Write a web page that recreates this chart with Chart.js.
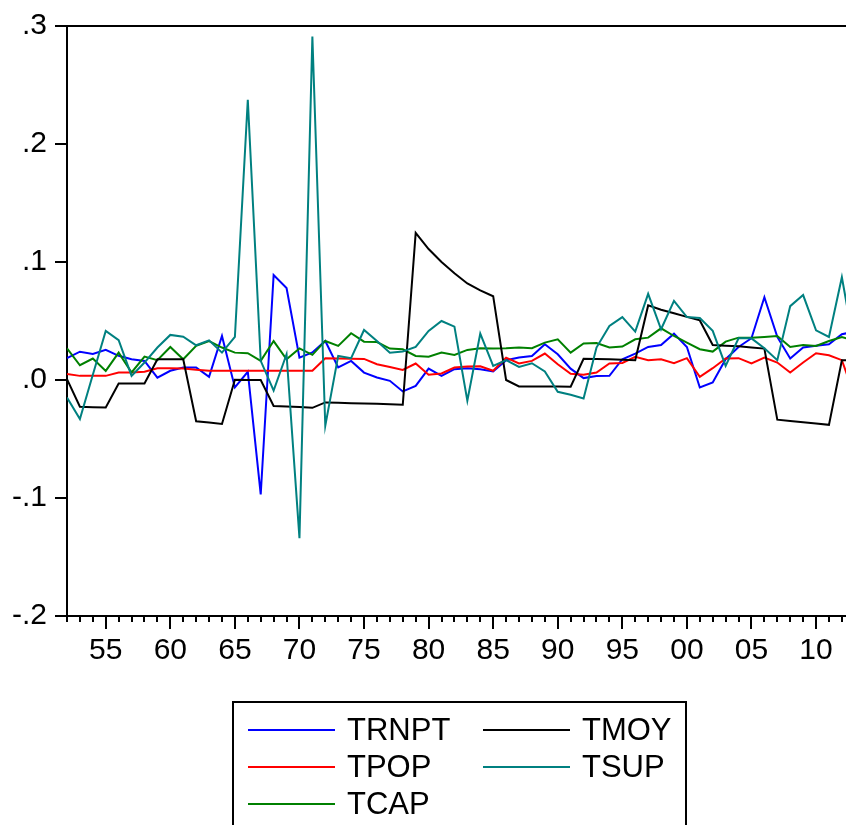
<!DOCTYPE html>
<html>
<head>
<meta charset="utf-8">
<script src="https://cdn.jsdelivr.net/npm/chart.js@4"></script>
<style>
html, body { margin:0; padding:0; background:#fff; overflow:hidden; }
#wrap { position:relative; width:846px; height:825px; }
#legend {
  position:absolute; left:232px; top:701px; width:451px; height:140px;
  border:2px solid #000; font-family:"Liberation Sans", Arial, sans-serif; font-size:31px; color:#000;
}
.item { position:absolute; height:37px; display:flex; align-items:center; white-space:nowrap; }
.item .ln { width:87px; height:2px; margin-right:12px; }
</style>
</head>
<body>
<div id="wrap">
  <canvas id="mychart" width="846" height="825"></canvas>
  <div id="legend"></div>
</div>
<script>
// annual data 1952 - 2013 (last point sits past the right edge)
var years = [];
for (var yr = 1952; yr <= 2013; yr++) years.push(yr);

var TRNPT = [0.0185, 0.024, 0.022, 0.0255, 0.0205, 0.0176, 0.0162, 0.002, 0.0078, 0.0106,
  0.0106, 0.0027, 0.0373, -0.0063, 0.007, -0.097, 0.089, 0.078, 0.019, 0.0233,
  0.0331, 0.0106, 0.0162, 0.0063, 0.0021, -0.0007, -0.0097, -0.005, 0.0097, 0.0035,
  0.0092, 0.01, 0.0092, 0.0072, 0.0168, 0.019, 0.0204, 0.0303, 0.0218, 0.0096,
  0.0016, 0.0033, 0.0036, 0.0176, 0.0224, 0.028, 0.0297, 0.0393, 0.028, -0.0063,
  -0.0021, 0.0176, 0.028, 0.0354, 0.0702, 0.0365, 0.0182, 0.0275, 0.029, 0.0303,
  0.0388, 0.041];

var TPOP = [0.005, 0.0035, 0.0035, 0.0035, 0.0064, 0.0064, 0.007, 0.010, 0.010, 0.0097,
  0.0086, 0.0078, 0.0078, 0.0078, 0.0078, 0.0078, 0.0078, 0.0078, 0.0078, 0.0078,
  0.0185, 0.0183, 0.018, 0.0179, 0.0134, 0.011, 0.0086, 0.014, 0.0044, 0.0055,
  0.0106, 0.0114, 0.0117, 0.0078, 0.019, 0.014, 0.0162, 0.0224, 0.0134, 0.0052,
  0.0044, 0.0064, 0.014, 0.0145, 0.0196, 0.0168, 0.0176, 0.0142, 0.0185, 0.0027,
  0.01, 0.0182, 0.0185, 0.014, 0.019, 0.0148, 0.0064, 0.0148, 0.0227, 0.021,
  0.0168, -0.014];

var TCAP = [0.0269, 0.0125, 0.0182, 0.0077, 0.0232, 0.0064, 0.0199, 0.0168, 0.028, 0.0176,
  0.0289, 0.033, 0.0275, 0.0232, 0.0227, 0.0162, 0.033, 0.0176, 0.0268, 0.0213,
  0.0331, 0.0289, 0.0396, 0.0325, 0.0322, 0.0266, 0.026, 0.0204, 0.0198, 0.0232,
  0.0213, 0.0255, 0.0269, 0.0266, 0.0269, 0.0275, 0.0269, 0.0317, 0.0345, 0.0232,
  0.0309, 0.0314, 0.0275, 0.0283, 0.0345, 0.0359, 0.0438, 0.0373, 0.0317, 0.0261,
  0.0241, 0.0325, 0.0359, 0.0359, 0.0365, 0.0373, 0.028, 0.0297, 0.0289, 0.0331,
  0.0365, 0.033];

var TMOY = [0.0007, -0.0227, -0.023, -0.0233, -0.003, -0.003, -0.003, 0.0176, 0.0176, 0.0176,
  -0.035, -0.036, -0.0373, 0.0002, 0.0001, 0.0, -0.022, -0.0224, -0.0228, -0.0236,
  -0.019, -0.0193, -0.0196, -0.0199, -0.0202, -0.0205, -0.021, 0.1246, 0.111, 0.1,
  0.0905, 0.0818, 0.076, 0.071, 0.0, -0.0055, -0.0055, -0.0056, -0.0056, -0.0057,
  0.0179, 0.0177, 0.0175, 0.0172, 0.0167, 0.0632, 0.0595, 0.0565, 0.0535, 0.0505,
  0.0297, 0.0291, 0.0285, 0.0276, 0.0266, -0.0336, -0.0348, -0.0358, -0.0369, -0.038,
  0.0167, 0.0165];

var TSUP = [-0.0148, -0.033, 0.0044, 0.0416, 0.0337, 0.0035, 0.0148, 0.0275, 0.0382, 0.0367,
  0.0294, 0.0336, 0.0232, 0.0365, 0.2375, 0.0162, -0.009, 0.0218, -0.134, 0.291,
  -0.0387, 0.0204, 0.0185, 0.0424, 0.0331, 0.0232, 0.0241, 0.028, 0.0416, 0.05,
  0.0452, -0.0176, 0.0393, 0.012, 0.0168, 0.0111, 0.0142, 0.0072, -0.01, -0.0125,
  -0.0156, 0.0275, 0.0458, 0.0533, 0.041, 0.073, 0.043, 0.067, 0.0533, 0.0526,
  0.0416, 0.012, 0.0353, 0.0353, 0.0269, 0.0168, 0.0626, 0.072, 0.0421, 0.0365,
  0.0871, 0.026];

var seriesNames = ["TRNPT", "TPOP", "TCAP", "TMOY", "TSUP"];
var seriesColors = ["#0000ff", "#ff0000", "#008000", "#000000", "#008080"];
var seriesValues = [TRNPT, TPOP, TCAP, TMOY, TSUP];

var xMin = 1952, xMax = 2012.32;
var yMin = -0.2, yMax = 0.3, yStep = 0.1;

Chart.defaults.font.family = '"Liberation Sans", Arial, sans-serif';
Chart.defaults.color = "#000";

var datasets = [];
for (var i = 0; i < seriesNames.length; i++) {
  var pts = [];
  for (var j = 0; j < years.length; j++) {
    pts.push({x: years[j], y: seriesValues[i][j]});
  }
  datasets.push({
    label: seriesNames[i],
    data: pts,
    borderColor: seriesColors[i],
    backgroundColor: seriesColors[i],
    borderWidth: 2,
    pointRadius: 0,
    tension: 0,
    fill: false,
    order: seriesNames.length - 1 - i
  });
}

var axisFont = {size: 30};

var ctx = document.getElementById("mychart");
var myChart = new Chart(ctx, {
  type: "line",
  data: {datasets: datasets},
  options: {
    responsive: false,
    animation: false,
    events: [],
    layout: {padding: {top: 24, left: 0, right: 0, bottom: 149}},
    plugins: {legend: {display: false}, tooltip: {enabled: false}},
    scales: {
      x: {
        type: "linear", position: "bottom", weight: 1,
        min: xMin, max: xMax,
        afterBuildTicks: function(s) {
          s.ticks = s.ticks.filter(function(t) { return t.value % 5 === 0; });
        },
        afterFit: function(s) { s.height = 60; },
        ticks: {
          stepSize: 5, includeBounds: false, autoSkip: false, maxRotation: 0, padding: 4,
          font: axisFont, color: "#000",
          callback: function(v) { return String(v % 100).padStart(2, "0"); }
        },
        grid: {drawOnChartArea: false, tickLength: 13, color: "#000", lineWidth: 2},
        border: {color: "#000", width: 2}
      },
      xMinor: {
        type: "linear", position: "bottom", weight: 0,
        min: xMin, max: xMax,
        afterBuildTicks: function(s) {
          s.ticks = s.ticks.filter(function(t) { return Number.isInteger(t.value); });
        },
        afterFit: function(s) { s.height = 0; },
        ticks: {stepSize: 1, includeBounds: false, autoSkip: false, display: false},
        grid: {drawOnChartArea: false, tickLength: 6, color: "#000", lineWidth: 2},
        border: {display: false}
      },
      xTop: {
        type: "linear", position: "top",
        min: xMin, max: xMax,
        afterFit: function(s) { s.height = 0; },
        ticks: {display: false},
        grid: {drawOnChartArea: false, drawTicks: false},
        border: {color: "#000", width: 2}
      },
      y: {
        min: yMin, max: yMax,
        afterFit: function(s) { s.width = 67; },
        ticks: {
          stepSize: yStep, padding: 8, font: axisFont, color: "#000",
          callback: function(v) {
            if (Math.abs(v) < 1e-9) return ".0";
            return v.toFixed(1).replace("0.", ".");
          }
        },
        grid: {drawOnChartArea: false, tickLength: 12, color: "#000", lineWidth: 2},
        border: {color: "#000", width: 2}
      }
    }
  }
});

// legend, two columns filled top to bottom
var leg = document.getElementById("legend");
for (var k = 0; k < seriesNames.length; k++) {
  var col = k < 3 ? 0 : 1;
  var row = k < 3 ? k : k - 3;
  var it = document.createElement("div");
  it.className = "item";
  it.style.left = (14 + col * 235) + "px";
  it.style.top = (8 + row * 37.3) + "px";
  it.innerHTML = '<span class="ln" style="background:' + seriesColors[k] + '"></span><span>' + seriesNames[k] + '</span>';
  leg.appendChild(it);
}
</script>
</body>
</html>
